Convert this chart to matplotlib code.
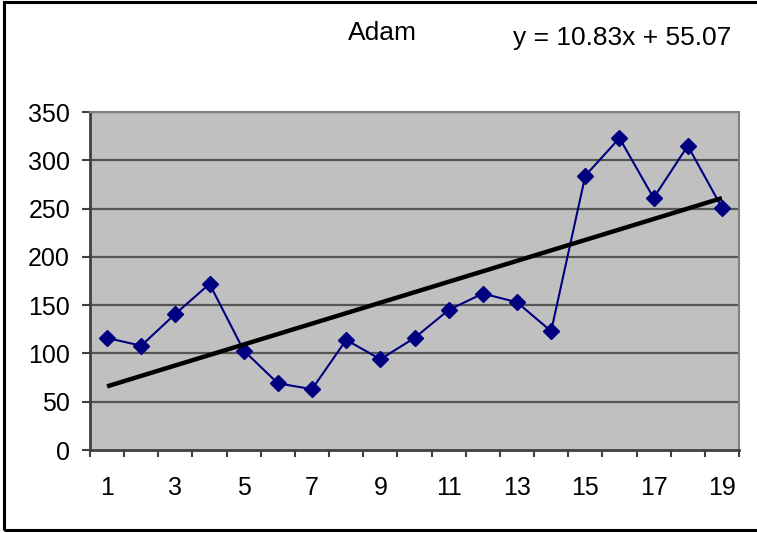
import matplotlib
matplotlib.use("Agg")
import matplotlib.pyplot as plt
from matplotlib.patches import Rectangle
import numpy as np

plt.rcParams['font.family'] = ['Liberation Sans', 'DejaVu Sans']

title = "Adam"
categories = list(range(1, 20))
values = [116, 108, 141, 172, 103, 69, 63, 114, 94, 116,
          145, 162, 153, 123, 284, 323, 261, 315, 251]
trend_slope = 10.83
trend_intercept = 55.07
y_ticks = [0, 50, 100, 150, 200, 250, 300, 350]
x_labels = [1, 3, 5, 7, 9, 11, 13, 15, 17, 19]

fig = plt.figure(figsize=(7.57, 5.33), dpi=100)
fig.patch.set_facecolor('white')

# outer chart border
fig.patches.append(Rectangle((3.5 / 757, 3.5 / 533), 1.0, 1 - 5.5 / 533,
                             transform=fig.transFigure, fill=False,
                             edgecolor='black', linewidth=2.2, zorder=0))

ax = fig.add_axes([90 / 757, 1 - 450 / 533, (739 - 90) / 757, (450 - 112) / 533])
ax.set_facecolor('#C0C0C0')

x = np.array(categories)
ax.set_xlim(0.5, len(categories) + 0.5)
ax.set_ylim(0, 350)

for yv in y_ticks[1:]:
    ax.axhline(yv, color='#555555', linewidth=1.6, zorder=1)

ax.plot(x, values, color='#000080', linewidth=1.5, marker='D',
        markersize=8.5, markerfacecolor='#000080', markeredgecolor='#000080',
        zorder=3)

tx = np.array([categories[0], categories[-1]])
ax.plot(tx, trend_slope * tx + trend_intercept, color='black',
        linewidth=3.2, solid_capstyle='butt', zorder=4)

# spines
for side in ('left', 'bottom'):
    ax.spines[side].set_color('#404040')
    ax.spines[side].set_linewidth(2)
for side in ('top', 'right'):
    ax.spines[side].set_color('#808080')
    ax.spines[side].set_linewidth(1.5)

ax.set_yticks(y_ticks)
ax.set_yticklabels([str(v) for v in y_ticks])
ax.tick_params(axis='y', direction='out', length=5.8, width=1.5, color='#404040',
               labelsize=18, pad=8.6)

ax.set_xticks(np.arange(0.5, len(categories) + 1, 1.0))
ax.set_xticklabels([])
ax.set_xticks(x_labels, minor=True)
ax.set_xticklabels([str(v) for v in x_labels], minor=True)
ax.tick_params(axis='x', which='major', direction='out', length=5, width=1.5,
               color='#404040')
ax.tick_params(axis='x', which='minor', length=0, labelsize=18, pad=19)

fig.text(382 / 757, 1 - 33 / 533, title, ha='center', va='center', fontsize=19)
fig.text(731 / 757, 1 - 38 / 533, "y = 10.83x + 55.07", ha='right',
         va='center', fontsize=19)

fig.savefig("out.png", dpi=100, facecolor='white')
